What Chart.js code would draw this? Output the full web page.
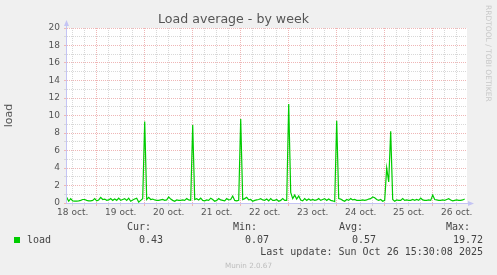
<!DOCTYPE html>
<html>
<head>
<meta charset="utf-8">
<script src="https://cdn.jsdelivr.net/npm/chart.js@4/dist/chart.umd.min.js"></script>
<style>
  html, body { margin: 0; padding: 0; background: #f0f0f0; overflow: hidden; }
  #wrap { position: relative; width: 497px; height: 275px; }
  canvas { position: absolute; left: 0; top: 0; }
  .t { position: absolute; white-space: pre; font-family: "DejaVu Sans Mono", monospace; font-size: 10px; line-height: 12px; color: #444; }
  .r { text-align: right; }
  #sq { position: absolute; left: 14px; top: 237px; width: 6px; height: 6px; background: #00cc00; }
  #rrd { position: absolute; left: 484px; top: 5px; writing-mode: vertical-rl; font-family: "DejaVu Sans", sans-serif; font-size: 7.5px; color: #c8c8c8; white-space: pre; line-height: 8px; }
  #munin { position: absolute; left: 0; width: 497px; text-align: center; top: 261px; font-family: "DejaVu Sans", sans-serif; font-size: 7.2px; color: #bdbdbd; }
</style>
</head>
<body>
<div id="wrap">
  <canvas id="c" width="497" height="275"></canvas>
  <div id="rrd">RRDTOOL / TOBI OETIKER</div>
  <div class="t r" style="right:346px;top:221px;">Cur:</div>
  <div class="t r" style="right:240px;top:221px;">Min:</div>
  <div class="t r" style="right:134px;top:221px;">Avg:</div>
  <div class="t r" style="right:27px;top:221px;">Max:</div>
  <div id="sq"></div>
  <div class="t" style="left:27px;top:234px;">load</div>
  <div class="t r" style="right:334px;top:234px;" id="vcur"></div>
  <div class="t r" style="right:228px;top:234px;" id="vmin"></div>
  <div class="t r" style="right:121px;top:234px;" id="vavg"></div>
  <div class="t r" style="right:14px;top:234px;" id="vmax"></div>
  <div class="t r" style="right:14px;top:246px;" id="upd"></div>
  <div id="munin">Munin 2.0.67</div>
</div>
<script>
// ---- data (hourly samples; hour counted from 18 oct 00:00) ----
const firstHour = 9;
const loadValues = [
  0.65,0.2,0.5,0.25,0.22,0.22,0.25,0.3,0.4,0.4,0.3,0.25,0.25,0.3,0.5,
  0.25,0.35,0.65,0.4,0.45,0.3,0.35,0.5,0.3,0.45,0.3,0.55,0.3,0.4,0.5,
  0.3,0.55,0.2,0.35,0.45,0.55,0.1,0.3,0.5,
  9.3,0.4,0.65,0.4,0.45,0.35,0.3,0.3,0.35,0.4,
  0.3,0.35,0.7,0.45,0.3,0.2,0.35,0.3,0.3,0.35,0.3,0.5,0.35,0.3,
  8.9,0.4,0.5,0.35,0.55,0.3,0.25,0.35,0.3,0.55,0.4,0.2,0.3,0.5,0.35,
  0.3,0.25,0.5,0.35,0.4,0.8,0.3,0.25,0.3,
  9.6,0.4,0.5,0.65,0.35,0.4,0.2,0.3,0.35,0.4,0.5,0.35,0.3,
  0.45,0.25,0.5,0.3,0.3,0.4,0.2,0.3,0.5,0.3,0.3,
  11.3,1.2,0.5,0.9,0.45,0.8,0.35,0.25,0.5,0.3,0.45,0.3,0.4,0.3,0.35,
  0.5,0.3,0.4,0.5,0.3,0.45,0.3,0.25,0.15,
  9.4,0.5,0.45,0.3,0.2,0.4,0.3,0.5,0.35,0.4,0.3,
  0.3,0.3,0.35,0.3,0.35,0.45,0.5,0.7,0.6,0.4,0.3,0.4,0.2,0.3,
  4.0,2.4,8.2,0.4,0.2,0.35,0.3,0.3,0.5,0.3,0.35,0.3,0.3,0.4,0.3,
  0.4,0.3,0.55,0.35,0.3,0.3,0.35,0.3,
  0.9,0.4,0.35,0.3,0.3,0.35,0.3,0.4,0.5,0.35,0.25,0.3,0.35,0.3,0.3,0.35,0.45
];
const dayLabels = ["18 oct.","19 oct.","20 oct.","21 oct.","22 oct.","23 oct.","24 oct.","25 oct.","26 oct."];
const yTicks = [0,2,4,6,8,10,12,14,16,18,20];
const stats = { cur: "0.43", min: "0.07", avg: "0.57", max: "19.72" };
const lastUpdate = "Last update: Sun Oct 26 15:30:08 2025";

document.getElementById('vcur').textContent = stats.cur;
document.getElementById('vmin').textContent = stats.min;
document.getElementById('vavg').textContent = stats.avg;
document.getElementById('vmax').textContent = stats.max;
document.getElementById('upd').textContent = lastUpdate;

const points = loadValues.map((v, i) => ({ x: firstHour + i, y: v }));

const RED = '#efb6b6';
const GRAY = '#d8d8d8';
const AXIS = '#c4c4f4';

const bgPlugin = {
  id: 'bg',
  beforeDraw(chart) {
    const { ctx, chartArea: a } = chart;
    ctx.save();
    ctx.fillStyle = '#f0f0f0';
    ctx.fillRect(0, 0, chart.width, chart.height);
    ctx.fillStyle = '#ffffff';
    ctx.fillRect(a.left, a.top, a.right - a.left, a.bottom - a.top);
    ctx.restore();
  },
  afterDatasetsDraw(chart) {
    const { ctx, chartArea: a } = chart;
    ctx.save();
    ctx.strokeStyle = AXIS;
    ctx.fillStyle = AXIS;
    ctx.lineWidth = 1;
    ctx.beginPath();
    ctx.moveTo(a.left - 0.5, a.bottom + 0.5);
    ctx.lineTo(a.left - 0.5, a.top - 4);
    ctx.moveTo(a.left - 0.5, a.bottom + 0.5);
    ctx.lineTo(a.right + 4, a.bottom + 0.5);
    ctx.stroke();
    ctx.beginPath();
    ctx.moveTo(a.left - 3, a.top - 2);
    ctx.lineTo(a.left + 2, a.top - 2);
    ctx.lineTo(a.left - 0.5, a.top - 8);
    ctx.closePath();
    ctx.fill();
    ctx.beginPath();
    ctx.moveTo(a.right + 1, a.bottom - 2);
    ctx.lineTo(a.right + 1, a.bottom + 3);
    ctx.lineTo(a.right + 7, a.bottom + 0.5);
    ctx.closePath();
    ctx.fill();
    ctx.restore();
  }
};

new Chart(document.getElementById('c'), {
  type: 'line',
  data: {
    datasets: [{
      label: 'load',
      data: points,
      borderColor: '#00cc00',
      borderWidth: 1.2,
      pointRadius: 0,
      tension: 0,
      fill: false
    }]
  },
  options: {
    responsive: false,
    animation: false,
    devicePixelRatio: 1,
    layout: { padding: { left: 0, right: 30, top: 0, bottom: 52 } },
    plugins: {
      legend: { display: false },
      tooltip: { enabled: false },
      title: {
        display: true,
        text: 'Load average - by week',
        color: '#555',
        font: { family: 'DejaVu Sans', size: 12.6, weight: 'normal', lineHeight: 1.2 },
        padding: { top: 12, bottom: 0.88 }
      }
    },
    scales: {
      x: {
        type: 'linear',
        min: 9.15,
        max: 209.15,
        afterFit(s) { s.height = 20; },
        afterBuildTicks(s) {
          const t = [];
          for (let h = 12; h <= 204; h += 6) t.push({ value: h });
          s.ticks = t;
        },
        ticks: {
          autoSkip: false,
          maxRotation: 0,
          padding: 1,
          color: '#555',
          font: { family: 'DejaVu Sans', size: 9 },
          callback(v) {
            if (v % 24 === 12) return dayLabels[(v - 12) / 24];
            return '';
          }
        },
        grid: {
          color: (c) => (c.tick && c.tick.value % 24 === 0) ? RED : GRAY,
          tickLength: 3,
          lineWidth: 1
        },
        border: { display: false, dash: [1, 1] }
      },
      y: {
        min: 0,
        max: 20,
        afterFit(s) { s.width = 67; },
        afterBuildTicks(s) {
          const t = [];
          for (let v = 0; v <= 20; v += 1) t.push({ value: v });
          s.ticks = t;
        },
        ticks: {
          autoSkip: false,
          padding: 4,
          color: '#555',
          font: { family: 'DejaVu Sans', size: 9 },
          callback(v) { return yTicks.includes(v) ? String(v) : ''; }
        },
        grid: {
          color: (c) => (c.tick && c.tick.value % 2 === 0) ? RED : GRAY,
          tickLength: 3,
          lineWidth: 1
        },
        border: { display: false, dash: [1, 1] },
        title: {
          display: true,
          text: 'load',
          color: '#555',
          font: { family: 'DejaVu Sans', size: 11, lineHeight: 1.2 },
          padding: { top: 3, bottom: 0 }
        }
      }
    }
  },
  plugins: [bgPlugin]
});
</script>
</body>
</html>
